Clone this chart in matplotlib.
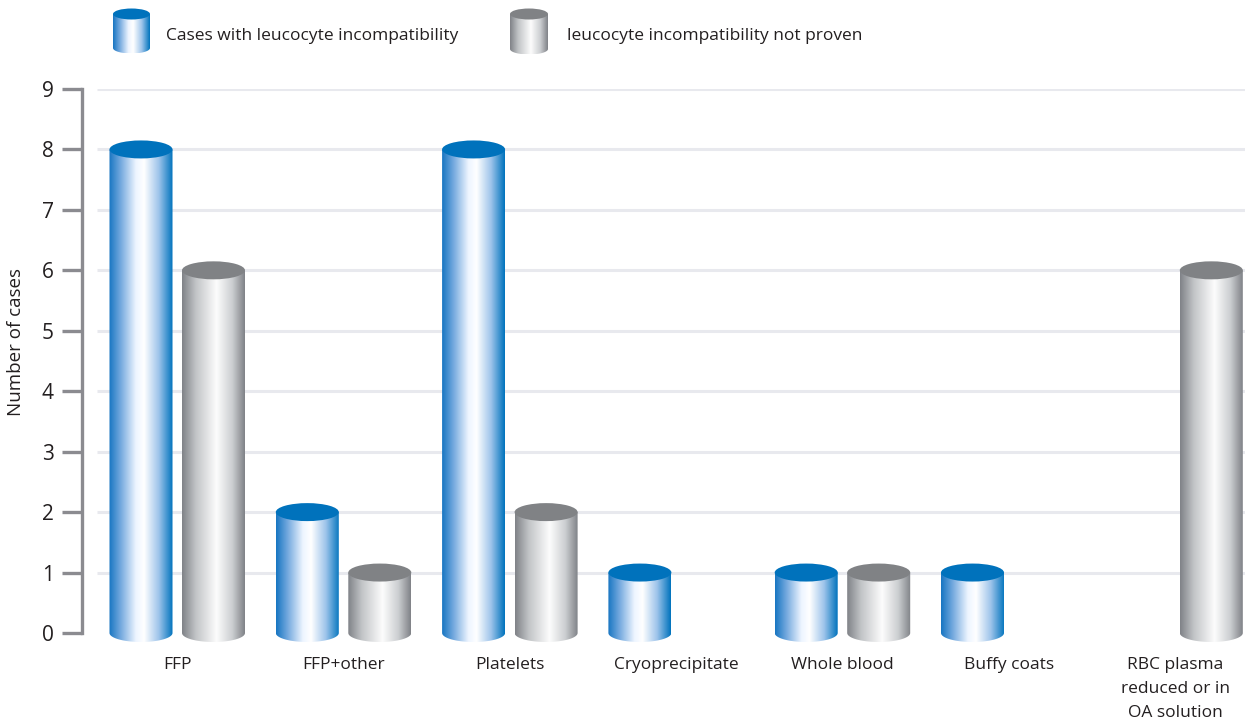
import numpy as np
import matplotlib
matplotlib.use("Agg")
import matplotlib.pyplot as plt
from matplotlib.path import Path
from matplotlib.patches import PathPatch, Ellipse
from matplotlib.colors import LinearSegmentedColormap

# ---- data ----
categories = ["FFP", "FFP+other", "Platelets", "Cryoprecipitate",
              "Whole blood", "Buffy coats", "RBC plasma\nreduced or in\nOA solution"]
leuco_incompat = [8, 2, 8, 1, 1, 1, 0]
not_proven = [6, 1, 2, 0, 1, 0, 6]
series_labels = ["Cases with leucocyte incompatibility",
                 "leucocyte incompatibility not proven"]
y_ticks = list(range(0, 10))

# ---- styling ----
plt.rcParams["font.family"] = ["Open Sans", "DejaVu Sans"]
TEXT = "#231f20"
AXIS_GREY = "#8b8b90"
GRID = "#e8e9ee"

blue_cmap = LinearSegmentedColormap.from_list("blue_cyl", [
    (0.00, (0.09, 0.46, 0.76)),
    (0.18, (0.45, 0.66, 0.87)),
    (0.42, (0.93, 0.96, 1.00)),
    (0.55, (1.00, 1.00, 1.00)),
    (0.78, (0.62, 0.77, 0.92)),
    (1.00, (0.00, 0.45, 0.74)),
])
grey_cmap = LinearSegmentedColormap.from_list("grey_cyl", [
    (0.00, (0.50, 0.51, 0.53)),
    (0.22, (0.76, 0.77, 0.78)),
    (0.55, (0.99, 0.99, 0.99)),
    (0.80, (0.80, 0.81, 0.82)),
    (1.00, (0.50, 0.51, 0.53)),
])
blue_top = "#0072bc"
grey_top = "#808285"

fig = plt.figure(figsize=(12.45, 7.21), dpi=100)
W, H = 1245, 721

y_lo, y_hi = -0.35, 9.0
px_per_unit = (633 - 89) / 9.0
ax_bottom_px = 633 + (0 - y_lo) * px_per_unit
ax = fig.add_axes([97 / W, 1 - ax_bottom_px / H, 1 - 97 / W, (ax_bottom_px - 89) / H])

x_spacing_px = 166.3
x_lo = -(177.5 - 97) / x_spacing_px
x_hi = x_lo + (W - 97) / x_spacing_px

bar_w = 63 / x_spacing_px
off_blue = -36.5 / x_spacing_px
off_grey = 36.0 / x_spacing_px
ell_h = 9.0 / px_per_unit  # semi-height of the elliptical caps (data units)

grad = np.linspace(0, 1, 256).reshape(1, -1)


def cylinder(axis, xc, width, y0, y1, semi_h, cmap, top_color, z=3):
    """Draw a shaded cylinder from base y0 up to top y1 centred at xc."""
    x0, x1 = xc - width / 2, xc + width / 2
    t = np.linspace(np.pi, 2 * np.pi, 60)
    arc_x = xc + (width / 2) * np.cos(t)
    arc_y = y0 + semi_h * np.sin(t)
    verts = [(x0, y1)] + list(zip(arc_x, arc_y)) + [(x1, y1), (x0, y1)]
    codes = [Path.MOVETO] + [Path.LINETO] * (len(verts) - 2) + [Path.CLOSEPOLY]
    body = PathPatch(Path(verts, codes), facecolor="none", edgecolor="none",
                     transform=axis.transData)
    axis.add_patch(body)
    im = axis.imshow(grad, cmap=cmap, extent=[x0, x1, y0 - semi_h, y1],
                     aspect="auto", interpolation="bilinear", zorder=z)
    im.set_clip_path(body)
    axis.add_patch(Ellipse((xc, y1), width, 2 * semi_h, facecolor=top_color,
                           edgecolor="none", zorder=z + 0.1))


x = np.arange(len(categories))
for i in x:
    if leuco_incompat[i] > 0:
        cylinder(ax, i + off_blue, bar_w, 0, leuco_incompat[i], ell_h, blue_cmap, blue_top)
    if not_proven[i] > 0:
        cylinder(ax, i + off_grey, bar_w, 0, not_proven[i], ell_h, grey_cmap, grey_top)

# gridlines for 1..9
ax.hlines(y_ticks[1:], x_lo, x_hi, colors=GRID, linewidth=2.2, zorder=1)

ax.set_xlim(x_lo, x_hi)
ax.set_ylim(y_lo, y_hi)

for s in ["top", "right", "bottom"]:
    ax.spines[s].set_visible(False)
ax.spines["left"].set_position(("outward", 11))
ax.spines["left"].set_bounds(0, 9)
ax.spines["left"].set_color(AXIS_GREY)
ax.spines["left"].set_linewidth(2.4)

ax.set_yticks(y_ticks)
ax.set_yticklabels([str(v) for v in y_ticks])
ax.tick_params(axis="y", length=14.4, width=2.4, color=AXIS_GREY, pad=5.8,
               labelsize=15, labelcolor=TEXT)
ax.set_xticks(x)
ax.set_xticklabels(categories, linespacing=1.65)
ax.tick_params(axis="x", length=0, pad=2.2, labelsize=12.5, labelcolor=TEXT)

ax.set_ylabel("Number of cases", fontsize=13.5, color=TEXT)
ax.yaxis.set_label_coords((25 - 97) / (W - 97), (ax_bottom_px - 342) / (ax_bottom_px - 89))

# legend drawn in figure pixel coordinates (y measured from the bottom)
lax = fig.add_axes([0, 0, 1, 1], zorder=5)
lax.axis("off")
cylinder(lax, 131.5, 37, H - 48, H - 14, 5.5, blue_cmap, blue_top)
cylinder(lax, 529, 38, H - 49, H - 14, 5.5, grey_cmap, grey_top)
lax.set_xlim(0, W)
lax.set_ylim(0, H)
lax.text(166, H - 35.5, series_labels[0], fontsize=12.5, color=TEXT, va="center", ha="left")
lax.text(567, H - 35.5, series_labels[1], fontsize=12.5, color=TEXT, va="center", ha="left")

fig.savefig("out.png", dpi=100, facecolor="white")
